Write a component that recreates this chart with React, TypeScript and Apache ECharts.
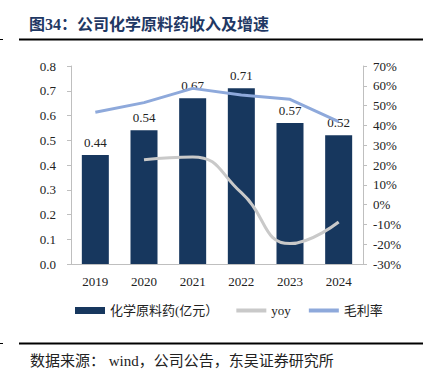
import React, { useEffect, useRef } from "react";
import * as echarts from "echarts";

const categories = ["2019", "2020", "2021", "2022", "2023", "2024"];
const revenue = [0.44, 0.54, 0.67, 0.71, 0.57, 0.52];
const yoy = [null, 22.7, 24.1, 6.0, -19.7, -8.8];
const grossMargin = [46.6, 51.5, 58.7, 55.4, 53.2, 41.9];
const leftTicks = { min: 0, max: 0.8, interval: 0.1 };
const rightTicks = { min: -30, max: 70, interval: 10 };

const FONT = "'Liberation Serif', 'Noto Sans CJK SC', serif";

export default function App() {
  const ref = useRef<HTMLDivElement>(null);
  useEffect(() => {
    const chart = echarts.init(ref.current!, null, { renderer: "svg" });
    chart.setOption({
      animation: false,
      backgroundColor: "#ffffff",
      grid: { left: 71, right: 60, top: 66, bottom: 122 },
      graphic: [
        {
          type: "text",
          left: 29,
          top: 16,
          style: {
            text: "图34：公司化学原料药收入及增速",
            fontSize: 16,
            fontWeight: "bold",
            fill: "#1F3864",
            fontFamily: FONT,
          },
        },
        { type: "line", shape: { x1: 19, y1: 39.5, x2: 423, y2: 39.5 }, style: { stroke: "#000", lineWidth: 2 } },
        { type: "line", shape: { x1: 0, y1: 39.5, x2: 3, y2: 39.5 }, style: { stroke: "#000", lineWidth: 1 } },
        { type: "line", shape: { x1: 19, y1: 343.5, x2: 423, y2: 343.5 }, style: { stroke: "#000", lineWidth: 2 } },
        { type: "line", shape: { x1: 0, y1: 343.5, x2: 3, y2: 343.5 }, style: { stroke: "#000", lineWidth: 1 } },
        {
          type: "text",
          left: 30,
          top: 353,
          style: {
            text: "数据来源： wind，公司公告，东吴证券研究所",
            fontSize: 15,
            fill: "#222",
            fontFamily: FONT,
          },
        },
      ],
      legend: {
        left: 70,
        top: 299,
        itemWidth: 30,
        itemHeight: 7,
        itemGap: 18,
        textStyle: { fontSize: 13, color: "#222", fontFamily: FONT },
        data: [
          { name: "化学原料药(亿元）", icon: "rect" },
          { name: "yoy", icon: "path://M0,0 L30,0 L30,4 L0,4 Z" },
          { name: "毛利率", icon: "path://M0,0 L30,0 L30,4 L0,4 Z" },
        ],
      },
      xAxis: {
        type: "category",
        data: categories,
        axisLine: { lineStyle: { color: "#BFBFBF" } },
        axisTick: { show: false },
        axisLabel: { fontSize: 13, color: "#222", fontFamily: FONT, margin: 11 },
      },
      yAxis: [
        {
          type: "value",
          min: leftTicks.min,
          max: leftTicks.max,
          interval: leftTicks.interval,
          axisLine: { show: true, lineStyle: { color: "#BFBFBF" } },
          axisTick: { show: true, length: 4, lineStyle: { color: "#BFBFBF" } },
          splitLine: { show: false },
          axisLabel: {
            fontSize: 13,
            color: "#222",
            fontFamily: FONT,
            margin: 15,
            formatter: (v: number) => v.toFixed(1),
          },
        },
        {
          type: "value",
          min: rightTicks.min,
          max: rightTicks.max,
          interval: rightTicks.interval,
          axisLine: { show: true, lineStyle: { color: "#BFBFBF" } },
          axisTick: { show: true, length: 4, lineStyle: { color: "#BFBFBF" } },
          splitLine: { show: false },
          axisLabel: {
            fontSize: 13,
            color: "#222",
            fontFamily: FONT,
            margin: 10,
            formatter: (v: number) => v + "%",
          },
        },
      ],
      series: [
        {
          name: "化学原料药(亿元）",
          type: "bar",
          data: revenue,
          barWidth: 27,
          itemStyle: { color: "#17375E" },
          label: {
            show: true,
            position: "top",
            distance: 6,
            fontSize: 13,
            color: "#222",
            fontFamily: FONT,
            formatter: (p: any) => p.value.toFixed(2),
          },
          z: 1,
        },
        {
          name: "yoy",
          type: "line",
          yAxisIndex: 1,
          data: yoy,
          smooth: true,
          showSymbol: false,
          symbol: "none",
          lineStyle: { color: "#C9C9C9", width: 3 },
          itemStyle: { color: "#C9C9C9" },
          z: 3,
        },
        {
          name: "毛利率",
          type: "line",
          yAxisIndex: 1,
          data: grossMargin,
          showSymbol: false,
          symbol: "none",
          lineStyle: { color: "#8EA9DB", width: 3 },
          itemStyle: { color: "#8EA9DB" },
          z: 3,
        },
      ],
    });
    return () => chart.dispose();
  }, []);
  return (
    <div
      ref={ref}
      style={{ position: "fixed", left: 0, top: 0, width: 423, height: 386 }}
    />
  );
}
